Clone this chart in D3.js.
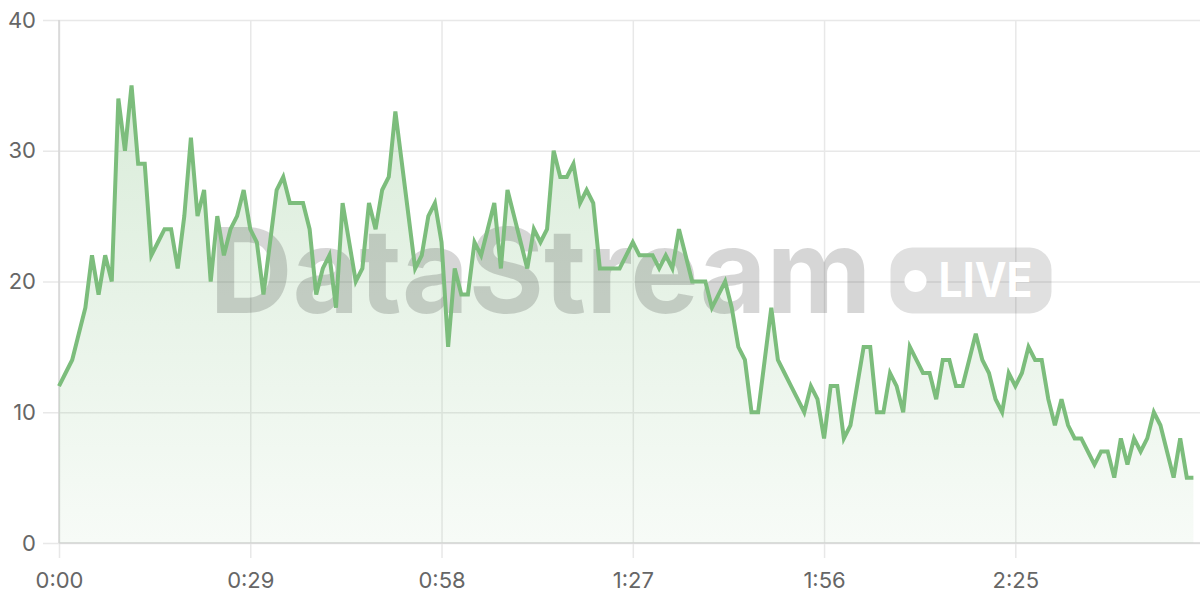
<!DOCTYPE html>
<html>
<head>
<meta charset="utf-8">
<script src="https://cdn.jsdelivr.net/npm/d3@7"></script>
<style>
  html, body { margin: 0; padding: 0; background: #fff; }
  #chart { width: 1200px; height: 600px; }
  text { font-family: Inter, "Noto Sans", sans-serif; }
</style>
</head>
<body>
<div id="chart"></div>
<script>
  'use strict';

  // one sample per second
  var values = [
    12, 13, 14, 16, 18, 22, 19, 22, 20, 34, 30, 35, 29, 29, 22, 23, 24, 24, 21, 25,
    31, 25, 27, 20, 25, 22, 24, 25, 27, 24, 23, 19, 23, 27, 28, 26, 26, 26, 24, 19,
    21, 22, 18, 26, 23, 20, 21, 26, 24, 27, 28, 33, 29, 25, 21, 22, 25, 26, 23, 15,
    21, 19, 19, 23, 22, 24, 26, 21, 27, 25, 23, 21, 24, 23, 24, 30, 28, 28, 29, 26,
    27, 26, 21, 21, 21, 21, 22, 23, 22, 22, 22, 21, 22, 21, 24, 22, 20, 20, 20, 18,
    19, 20, 18, 15, 14, 10, 10, 14, 18, 14, 13, 12, 11, 10, 12, 11, 8, 12, 12, 8,
    9, 12, 15, 15, 10, 10, 13, 12, 10, 15, 14, 13, 13, 11, 14, 14, 12, 12, 14, 16,
    14, 13, 11, 10, 13, 12, 13, 15, 14, 14, 11, 9, 11, 9, 8, 8, 7, 6, 7, 7,
    5, 8, 6, 8, 7, 8, 10, 9, 7, 5, 8, 5, 5
  ];
  var tickSeconds = [0, 29, 58, 87, 116, 145];
  var tickLabels = ['0:00', '0:29', '0:58', '1:27', '1:56', '2:25'];
  var yTicks = [0, 10, 20, 30, 40];

  var width = 1200, height = 600;
  var margin = { top: 20, right: 0, bottom: 57, left: 59 };
  var lineColor = '#7cbd7c';

  var x = d3.scaleLinear()
    .domain([0, values.length])
    .range([margin.left, width - margin.right]);
  var y = d3.scaleLinear()
    .domain([0, 40])
    .range([height - margin.bottom, margin.top]);

  var $svg = d3.select('#chart')
    .append('svg')
    .attr('width', width)
    .attr('height', height);

  var $defs = $svg.append('defs');
  var $grad = $defs.append('linearGradient')
    .attr('id', 'areaFill')
    .attr('gradientUnits', 'userSpaceOnUse')
    .attr('x1', 0).attr('x2', 0)
    .attr('y1', y(40)).attr('y2', y(0));
  $grad.append('stop').attr('offset', 0).attr('stop-color', lineColor).attr('stop-opacity', 0.32);
  $grad.append('stop').attr('offset', 1).attr('stop-color', lineColor).attr('stop-opacity', 0.06);

  // area + line generators
  var area = d3.area()
    .x(function(d, i) { return x(i); })
    .y0(y(0))
    .y1(function(d) { return y(d); });
  var line = d3.line()
    .x(function(d, i) { return x(i); })
    .y(function(d) { return y(d); });

  // grid
  var $yAxis = $svg.append('g')
    .attr('transform', 'translate(' + margin.left + ',0)')
    .call(d3.axisLeft(y).tickValues(yTicks)
      .tickSizeInner(-(width - margin.left - margin.right)).tickSizeOuter(0));
  $yAxis.select('.domain').remove();
  $yAxis.selectAll('.tick line')
    .attr('x1', -16)
    .attr('stroke', '#e8e8e8')
    .attr('stroke-width', 1.5);
  $yAxis.selectAll('.tick text')
    .attr('x', -23)
    .attr('fill', '#666')
    .style('font-size', '22px');

  var $xAxis = $svg.append('g')
    .attr('transform', 'translate(0,' + y(0) + ')')
    .call(d3.axisBottom(x).tickValues(tickSeconds)
      .tickFormat(function(d, i) { return tickLabels[i]; })
      .tickSizeOuter(0));
  $xAxis.select('.domain').remove();
  $xAxis.selectAll('.tick line')
    .attr('y1', -(y(0) - margin.top))
    .attr('y2', 15)
    .attr('stroke', '#e8e8e8')
    .attr('stroke-width', 1.5);
  $xAxis.selectAll('.tick text')
    .attr('y', 29)
    .attr('fill', '#666')
    .style('font-size', '22px');

  // axis borders
  $svg.append('line')
    .attr('x1', margin.left).attr('x2', margin.left)
    .attr('y1', margin.top).attr('y2', y(0))
    .attr('stroke', '#d6d6d6').attr('stroke-width', 1.5);
  $svg.append('line')
    .attr('x1', margin.left).attr('x2', width)
    .attr('y1', y(0)).attr('y2', y(0))
    .attr('stroke', '#d6d6d6').attr('stroke-width', 1.5);

  $svg.append('path')
    .datum(values)
    .attr('d', area)
    .attr('fill', 'url(#areaFill)');

  // watermark, centred on the plot area
  var cx = (margin.left + width - margin.right) / 2;
  var cy = (margin.top + y(0)) / 2;
  var $wm = $svg.append('g').attr('pointer-events', 'none');
  $wm.append('text')
    .attr('x', cx - 420)
    .attr('y', cy + 31)
    .attr('textLength', 662)
    .attr('lengthAdjust', 'spacingAndGlyphs')
    .style('font-size', '118px')
    .style('font-weight', 700)
    .attr('fill', 'rgba(0,0,0,0.16)')
    .text('DataStream');
  $wm.append('rect')
    .attr('x', cx + 261).attr('y', cy - 34)
    .attr('width', 161).attr('height', 66)
    .attr('rx', 22)
    .attr('fill', 'rgba(0,0,0,0.12)');
  $wm.append('circle')
    .attr('cx', cx + 286).attr('cy', cy - 0.5)
    .attr('r', 11)
    .attr('fill', '#fff');
  $wm.append('text')
    .attr('x', cx + 309)
    .attr('y', cy + 15.5)
    .attr('textLength', 94)
    .attr('lengthAdjust', 'spacingAndGlyphs')
    .style('font-size', '48px')
    .style('font-weight', 700)
    .attr('fill', '#fff')
    .text('LIVE');

  $svg.append('path')
    .datum(values)
    .attr('d', line)
    .attr('fill', 'none')
    .attr('stroke', lineColor)
    .attr('stroke-width', 4)
    .attr('stroke-linejoin', 'miter');
</script>
</body>
</html>
